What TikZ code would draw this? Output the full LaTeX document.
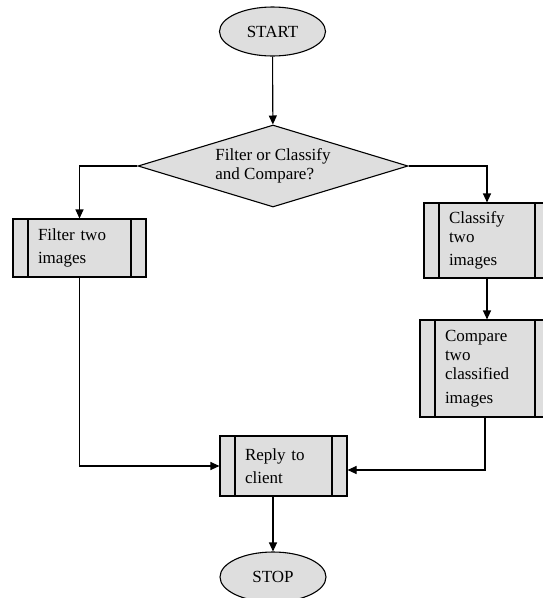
\documentclass[tikz,border=0pt]{standalone}
\usepackage{fontspec}
\setmainfont{Liberation Serif}
\usetikzlibrary{shapes.geometric,arrows.meta}
\definecolor{boxgray}{RGB}{222,222,222}
\tikzset{
  base/.style={draw=black, fill=boxgray, line width=1.1pt, font=\fontsize{17}{19}\selectfont},
  term/.style={base, ellipse, inner sep=0pt},
  decision/.style={base, diamond, aspect=3.3, inner sep=1pt, align=left},
  subproc/.style={base, rectangle, inner sep=0pt, align=left,
    path picture={
      \draw[line width=1.1pt] ([xshift=15pt]path picture bounding box.north west) -- ([xshift=15pt]path picture bounding box.south west);
      \draw[line width=1.1pt] ([xshift=-15pt]path picture bounding box.north east) -- ([xshift=-15pt]path picture bounding box.south east);
    }},
  conn/.style={line width=1.1pt, -{Triangle[length=9pt,width=8pt]}}
}
\begin{document}
\begin{tikzpicture}[x=1pt,y=-1pt]
\useasboundingbox[fill=white] (0,0) rectangle (543,598);
\node[term, minimum width=106pt, minimum height=49pt] (start) at (272.5,31.5) {START};
\node[decision, minimum width=270pt, minimum height=82pt] (dia) at (273,166) {Filter or Classify\\and Compare?};
\node[subproc, minimum width=133pt, minimum height=58pt, text width=83pt] (filter) at (79.5,248) {Filter two\\[4pt]images};
\node[subproc, minimum width=126pt, minimum height=75pt, text width=76pt] (classify) at (487,240.5) {Classify\\two\\[4pt]images};
\node[subproc, minimum width=130pt, minimum height=97pt, text width=80pt] (compare) at (485,368.5) {Compare\\two\\classified\\[5pt]images};
\node[subproc, minimum width=127pt, minimum height=60pt, text width=77pt] (reply) at (283.5,466) {Reply to\\[4pt]client};
\node[term, minimum width=106pt, minimum height=50pt] (stop) at (273,577) {STOP};
\draw[conn] (start) -- (dia);
\draw[conn] (dia.west) -| (filter.north);
\draw[conn] (dia.east) -| (classify.north);
\draw[conn] (classify) -- (classify.south |- compare.north);
\draw[conn] (filter.south) |- (reply.west);
\draw[conn] (compare.south) |- ([yshift=-4pt]reply.east);
\draw[conn] (stop.north |- reply.south) -- (stop.north);
\end{tikzpicture}
\end{document}
